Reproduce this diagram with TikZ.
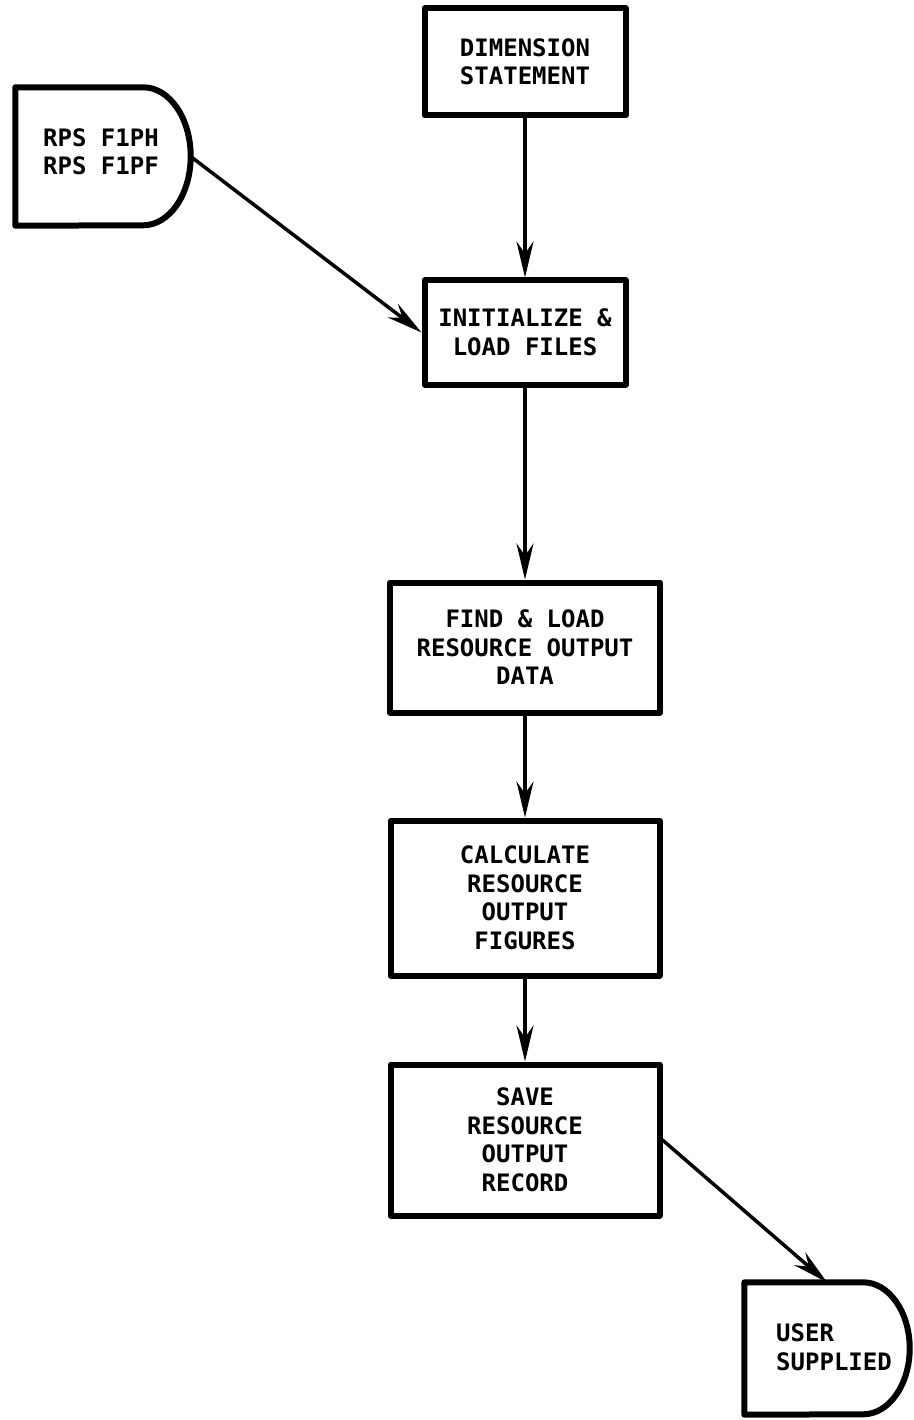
\documentclass[tikz,border=0pt]{standalone}
\usepackage{fontspec}
\newfontfamily\lettering{DejaVu Sans Mono}
\usetikzlibrary{arrows.meta}
\begin{document}
\begin{tikzpicture}[x=1pt,y=1pt,
  lettertxt/.style={font=\lettering\bfseries\fontsize{24}{28.5}\selectfont, align=center, inner sep=0pt},
  procbox/.style={lettertxt, draw, line width=6pt, line join=round},
  dshape/.style={inner sep=0pt},
  dline/.style={line width=6pt, line join=round},
  flow/.style={line width=3.5pt, -{Stealth[length=36pt,width=17pt,inset=12pt]}}]
\useasboundingbox (0,0) rectangle (913,-1420);

% process boxes
\node[procbox, minimum width=201pt, minimum height=107pt] (dim) at (525,-62) {DIMENSION\\STATEMENT};
\node[procbox, minimum width=201pt, minimum height=104pt] (init) at (525,-332.5) {INITIALIZE \&\\LOAD FILES};
\node[procbox, minimum width=270pt, minimum height=130pt] (find) at (525,-647.5) {FIND \& LOAD\\RESOURCE OUTPUT\\DATA};
\node[procbox, minimum width=269pt, minimum height=155pt] (calc) at (525,-898) {CALCULATE\\RESOURCE\\OUTPUT\\FIGURES};
\node[procbox, minimum width=269pt, minimum height=151pt] (save) at (525,-1140) {SAVE\\RESOURCE\\OUTPUT\\RECORD};

% D-shaped input/output symbols
\node[dshape, minimum width=175pt, minimum height=138pt] (rps) at (103,-156.5) {};
\draw[dline] (rps.south west) -- (rps.north west) -- ([xshift=-47.5pt]rps.north east)
  arc[start angle=90, end angle=-90, x radius=47.5pt, y radius=69pt] -- cycle;
\node[lettertxt, align=left] (rpslbl) at (101,-152) {RPS F1PH\\RPS F1PF};

\node[dshape, minimum width=165pt, minimum height=132pt] (user) at (827,-1348.5) {};
\draw[dline] (user.south west) -- (user.north west) -- ([xshift=-46.5pt]user.north east)
  arc[start angle=90, end angle=-90, x radius=46.5pt, y radius=66pt] -- cycle;
\node[lettertxt, align=left] (userlbl) at (834,-1347) {USER\\SUPPLIED};

% connectors
\draw[flow] (dim.south) -- (init.north);
\draw[flow] (rps.east) -- (init.west);
\draw[flow] (init.south) -- (find.north);
\draw[flow] (find.south) -- (calc.north);
\draw[flow] (calc.south) -- (save.north);
\draw[flow] (save.east) -- (user.north);
\end{tikzpicture}
\end{document}
